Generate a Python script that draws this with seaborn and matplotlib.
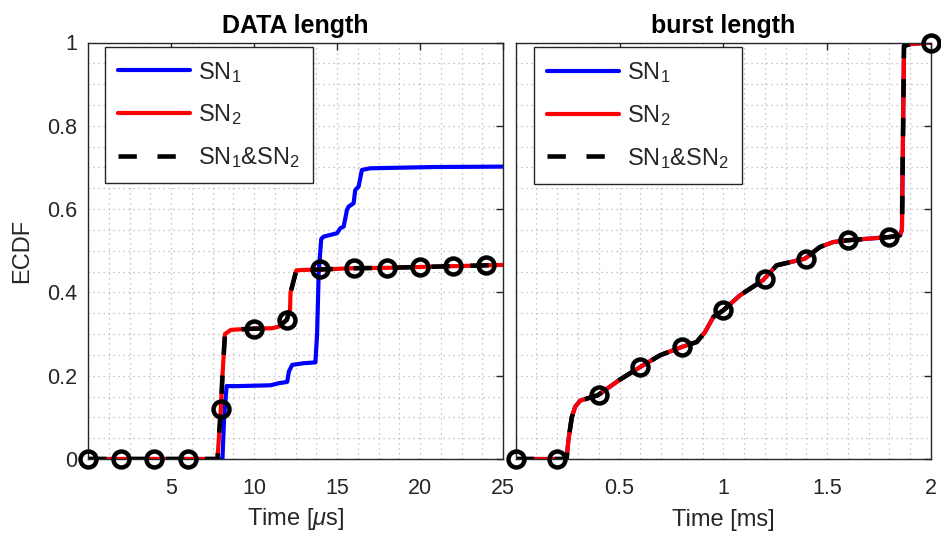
import numpy as np
import pandas as pd
import matplotlib
matplotlib.use("Agg")
import matplotlib.pyplot as plt
from matplotlib.ticker import MultipleLocator, FixedLocator
import seaborn as sns

# ---------------- data ----------------
# DATA length panel (time in microseconds)
data_sn1_x = [0, 8.1, 8.2, 8.35, 9.0, 10.0, 11.0, 11.5, 12.0, 12.1, 12.3, 13.0, 13.7, 13.8, 13.9,
              14.05, 14.2, 15.0, 15.2, 15.4, 15.6, 15.7, 16.0, 16.1, 16.3, 16.5, 17.0, 20.8, 25.0]
data_sn1_y = [0, 0, 0.10, 0.175, 0.175, 0.176, 0.177, 0.182, 0.185, 0.21, 0.226, 0.23, 0.232, 0.30,
              0.45, 0.528, 0.534, 0.542, 0.554, 0.558, 0.598, 0.606, 0.614, 0.646, 0.654, 0.694,
              0.698, 0.701, 0.702]
data_sn2_x = [0, 7.8, 8.0, 8.1, 8.25, 8.6, 9.0, 10.0, 11.1, 11.5, 11.97, 12.17, 12.2, 12.4, 12.55,
              13.0, 14.0, 16.0, 18.0, 20.0, 22.0, 24.0, 25.0]
data_sn2_y = [0, 0, 0.12, 0.2, 0.30, 0.31, 0.311, 0.313, 0.314, 0.318, 0.334, 0.358, 0.40, 0.43,
              0.453, 0.454, 0.455, 0.458, 0.459, 0.461, 0.463, 0.465, 0.466]
data_both_x = data_sn2_x
data_both_y = data_sn2_y
data_mark_x = [0, 2, 4, 6, 8, 10, 12, 14, 16, 18, 20, 22, 24]
data_mark_y = [0, 0, 0, 0, 0.12, 0.313, 0.334, 0.455, 0.458, 0.459, 0.461, 0.463, 0.465]

# burst length panel (time in milliseconds)
burst_x = [0, 0.2, 0.245, 0.254, 0.27, 0.286, 0.31, 0.395, 0.50, 0.60, 0.695, 0.80, 0.872, 0.912,
           0.952, 1.0, 1.08, 1.19, 1.257, 1.393, 1.465, 1.53, 1.594, 1.803, 1.85, 1.86, 1.87,
           1.9, 2.0]
burst_y = [0, 0, 0, 0.046, 0.10, 0.125, 0.14, 0.153, 0.19, 0.221, 0.249, 0.269, 0.281, 0.305,
           0.341, 0.357, 0.393, 0.429, 0.465, 0.481, 0.509, 0.521, 0.525, 0.533, 0.537, 0.55,
           0.992, 0.996, 1.0]
burst_sn1_x, burst_sn1_y = burst_x, burst_y
burst_sn2_x, burst_sn2_y = burst_x, burst_y
burst_both_x, burst_both_y = burst_x, burst_y
burst_mark_x = [0, 0.2, 0.4, 0.6, 0.8, 1.0, 1.2, 1.4, 1.6, 1.8, 2.0]
burst_mark_y = [0, 0, 0.153, 0.221, 0.269, 0.357, 0.433, 0.481, 0.525, 0.533, 0.998]

y_ticks = [0, 0.2, 0.4, 0.6, 0.8, 1.0]
y_ticklabels = ["0", "0.2", "0.4", "0.6", "0.8", "1"]
left_xticks = [5, 10, 15, 20, 25]
left_xticklabels = ["5", "10", "15", "20", "25"]
right_xticks = [0.5, 1.0, 1.5, 2.0]
right_xticklabels = ["0.5", "1", "1.5", "2"]

titles = ["DATA length", "burst length"]
xlabels = [r"Time [$\mu$s]", "Time [ms]"]
labels = [r"SN$_1$", r"SN$_2$", r"SN$_1$&SN$_2$"]

# ---------------- style ----------------
sns.set_style("white")
plt.rcParams["font.family"] = ["Liberation Sans", "DejaVu Sans"]
plt.rcParams["mathtext.fontset"] = "custom"
plt.rcParams["mathtext.rm"] = "Liberation Sans"
plt.rcParams["mathtext.it"] = "Liberation Sans:italic"
plt.rcParams["mathtext.bf"] = "Liberation Sans:bold"

TXT = "#262626"
fig = plt.figure(figsize=(9.41, 5.36), dpi=100)
axL = fig.add_axes([88 / 941, 1 - 459 / 536, 415 / 941, 416.5 / 536])
axR = fig.add_axes([515.7 / 941, 1 - 459 / 536, 415.3 / 941, 416.5 / 536])

LW = 3.0
DASH = (4, 4.5)


def draw(ax, s1x, s1y, s2x, s2y, bx, by, mx, my):
    h1 = sns.lineplot(x=s1x, y=s1y, ax=ax, color="#0000ff", lw=LW, estimator=None, sort=False,
                      label=labels[0]).get_lines()[-1]
    h2 = sns.lineplot(x=s2x, y=s2y, ax=ax, color="#ff0000", lw=LW, estimator=None, sort=False,
                      label=labels[1]).get_lines()[-1]
    h3 = sns.lineplot(x=bx, y=by, ax=ax, color="black", lw=LW + 0.3, estimator=None, sort=False,
                      label=labels[2], dashes=False).get_lines()[-1]
    h3.set_dashes(DASH)
    sns.lineplot(x=mx, y=my, ax=ax, estimator=None, sort=False, linestyle="none", marker="o",
                 markersize=11.5, markerfacecolor="none", markeredgecolor="black",
                 markeredgewidth=3.2, color="black", zorder=5, clip_on=False)
    return [h1, h2, h3]


hL = draw(axL, data_sn1_x, data_sn1_y, data_sn2_x, data_sn2_y, data_both_x, data_both_y,
          data_mark_x, data_mark_y)
hR = draw(axR, burst_sn1_x, burst_sn1_y, burst_sn2_x, burst_sn2_y, burst_both_x, burst_both_y,
          burst_mark_x, burst_mark_y)

for i, (ax, hs) in enumerate([(axL, hL), (axR, hR)]):
    if i == 0:
        ax.set_xlim(0, 25)
        ax.xaxis.set_major_locator(FixedLocator(left_xticks))
        ax.set_xticklabels(left_xticklabels)
        ax.xaxis.set_minor_locator(MultipleLocator(1.25))
        ax.set_yticks(y_ticks)
        ax.set_yticklabels(y_ticklabels)
        ax.set_ylabel("ECDF", fontsize=17, color=TXT, labelpad=10)
        anchor = (0.041, 0.99)
        lpad = 5
    else:
        ax.set_xlim(0, 2)
        ax.xaxis.set_major_locator(FixedLocator(right_xticks))
        ax.set_xticklabels(right_xticklabels)
        ax.xaxis.set_minor_locator(MultipleLocator(0.1))
        ax.set_yticks(y_ticks)
        ax.set_yticklabels([])
        anchor = (0.045, 0.988)
        lpad = 7
    ax.set_ylim(0, 1)
    ax.yaxis.set_minor_locator(MultipleLocator(0.05))
    ax.grid(which="both", linestyle=(0, (1, 3)), color="#b5b5b5", linewidth=0.9)
    ax.set_axisbelow(True)
    ax.tick_params(which="major", direction="in", length=5, width=1, top=True, right=True,
                   labelsize=15.5, colors=TXT)
    ax.tick_params(axis="x", which="major", pad=14)
    ax.tick_params(axis="y", which="major", pad=8)
    ax.tick_params(which="minor", length=0)
    for sp in ax.spines.values():
        sp.set_color(TXT)
        sp.set_linewidth(1.0)
    ax.set_title(titles[i], fontsize=18, fontweight="bold", color="black", pad=7)
    ax.set_xlabel(xlabels[i], fontsize=17, color=TXT, labelpad=lpad)
    if ax.get_legend() is not None:
        ax.get_legend().remove()
    leg = ax.legend(handles=hs, labels=labels, loc="upper left", bbox_to_anchor=anchor,
                    borderaxespad=0, fontsize=17, frameon=True, fancybox=False,
                    framealpha=1, edgecolor=TXT, handlelength=3.05, handletextpad=0.32,
                    labelspacing=0.75, borderpad=0.55)
    leg.get_frame().set_linewidth(1.0)

fig.savefig("out.png", dpi=100)
